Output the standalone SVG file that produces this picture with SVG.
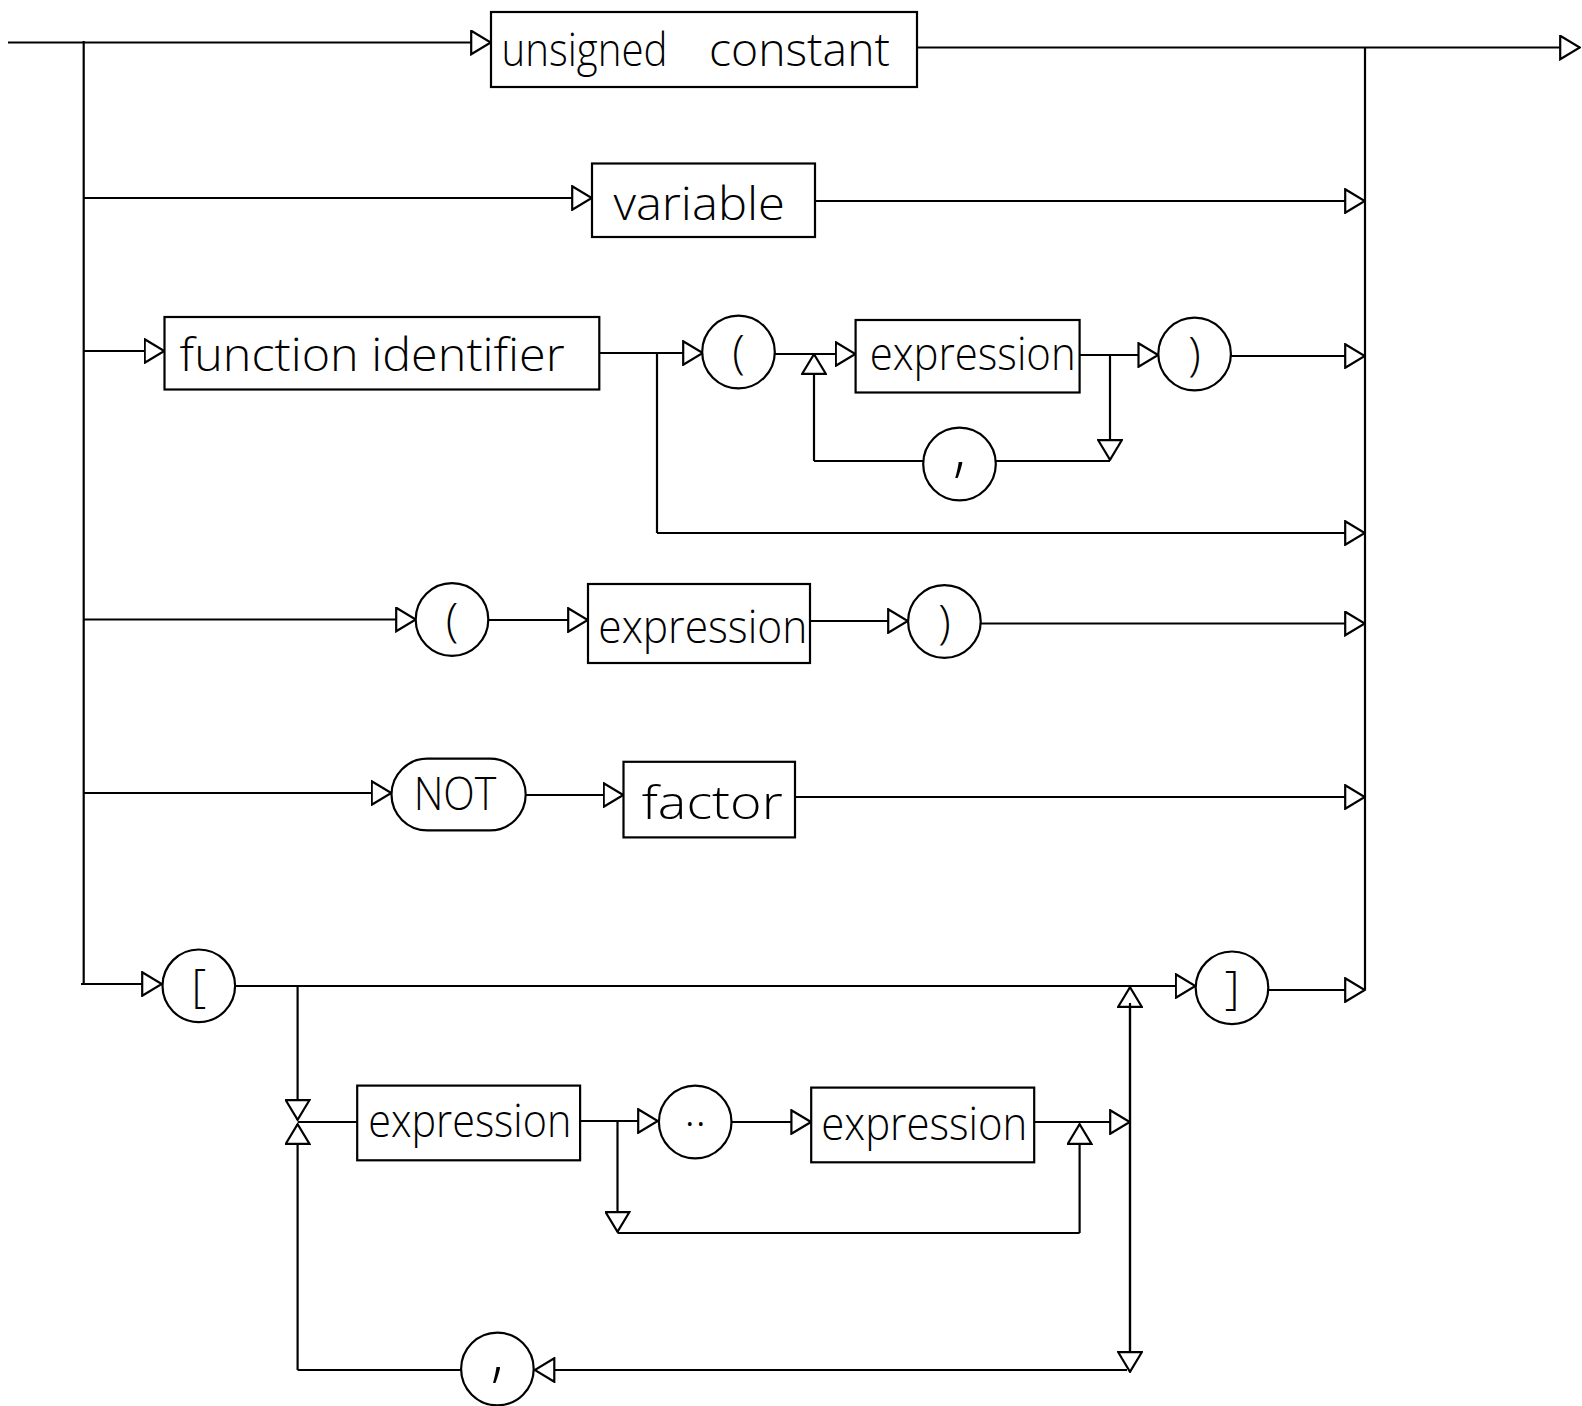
<svg xmlns="http://www.w3.org/2000/svg" width="1582" height="1406" viewBox="0 0 1582 1406">
  <style>
    .box { fill: #fff; stroke: #000; stroke-width: 2.2; }
    .term { fill: #fff; stroke: #000; stroke-width: 2.2; }
    .lbl { font-family: "Open Sans", "Liberation Sans", sans-serif; font-weight: 300; font-size: 46px; fill: #000; }
    .sym { font-family: "Open Sans", "Liberation Sans", sans-serif; font-weight: 300; font-size: 46px; fill: #000; text-anchor: middle; }
    .comma { font-size: 64px; }
    .wire { fill: none; stroke: #000; stroke-width: 2.2; }
  </style>
  <defs>
    <marker id="arr" viewBox="0 0 22 26" refX="21" refY="13" markerWidth="22" markerHeight="26" markerUnits="userSpaceOnUse" orient="auto">
      <path d="M1.2,1.2 L20.8,13 L1.2,24.8 Z" fill="#fff" stroke="#000" stroke-width="2.2"/>
    </marker>
  </defs>
  <rect width="1582" height="1406" fill="#fff"/>

  <!-- connectors -->
  <g id="connectors" class="wire">
    <!-- entry and rails -->
    <line x1="8" y1="42.5" x2="491" y2="42.5" marker-end="url(#arr)"/>
    <line x1="83.7" y1="41" x2="83.7" y2="984"/>
    <line x1="917" y1="47.5" x2="1580" y2="47.5" marker-end="url(#arr)"/>
    <line x1="1365" y1="47.5" x2="1365" y2="990"/>

    <!-- variable -->
    <line x1="83.7" y1="198" x2="592" y2="198" marker-end="url(#arr)"/>
    <line x1="815" y1="201" x2="1365" y2="201" marker-end="url(#arr)"/>

    <!-- function call -->
    <line x1="83.7" y1="351" x2="164.5" y2="351" marker-end="url(#arr)"/>
    <line x1="599" y1="353" x2="703" y2="353" marker-end="url(#arr)"/>
    <line x1="775" y1="354" x2="855.6" y2="354" marker-end="url(#arr)"/>
    <line x1="1079.6" y1="355" x2="1158.3" y2="355" marker-end="url(#arr)"/>
    <line x1="1231" y1="356" x2="1365" y2="356" marker-end="url(#arr)"/>
    <line x1="1110" y1="355" x2="1110" y2="460" marker-end="url(#arr)"/>
    <line x1="1110" y1="461" x2="996" y2="461"/>
    <line x1="923" y1="461" x2="814" y2="461"/>
    <line x1="814" y1="461" x2="814" y2="354" marker-end="url(#arr)"/>
    <line x1="657" y1="353" x2="657" y2="533"/>
    <line x1="657" y1="533" x2="1365" y2="533" marker-end="url(#arr)"/>

    <!-- parenthesised expression -->
    <line x1="83.7" y1="619.5" x2="416" y2="619.5" marker-end="url(#arr)"/>
    <line x1="488" y1="620" x2="588" y2="620" marker-end="url(#arr)"/>
    <line x1="810" y1="621" x2="908" y2="621" marker-end="url(#arr)"/>
    <line x1="981" y1="623.5" x2="1365" y2="623.5" marker-end="url(#arr)"/>

    <!-- NOT factor -->
    <line x1="83.7" y1="793" x2="391.5" y2="793" marker-end="url(#arr)"/>
    <line x1="525.7" y1="795" x2="623.5" y2="795" marker-end="url(#arr)"/>
    <line x1="795" y1="797" x2="1365" y2="797" marker-end="url(#arr)"/>

    <!-- set constructor -->
    <line x1="81" y1="984" x2="162" y2="984" marker-end="url(#arr)"/>
    <line x1="235" y1="986" x2="1195.6" y2="986" marker-end="url(#arr)"/>
    <line x1="1268" y1="990" x2="1365" y2="990" marker-end="url(#arr)"/>
    <line x1="297.6" y1="986" x2="297.6" y2="1120" marker-end="url(#arr)"/>
    <line x1="297.6" y1="1370" x2="297.6" y2="1124" marker-end="url(#arr)"/>
    <line x1="297.6" y1="1122" x2="357.2" y2="1122"/>
    <line x1="580" y1="1121" x2="658" y2="1121" marker-end="url(#arr)"/>
    <line x1="731.5" y1="1122" x2="811.2" y2="1122" marker-end="url(#arr)"/>
    <line x1="1034" y1="1122" x2="1130" y2="1122" marker-end="url(#arr)"/>
    <line x1="617.5" y1="1122" x2="617.5" y2="1232" marker-end="url(#arr)"/>
    <line x1="617.5" y1="1233" x2="1079.6" y2="1233"/>
    <line x1="1079.6" y1="1233" x2="1079.6" y2="1124" marker-end="url(#arr)"/>
    <line x1="1130" y1="1370" x2="1130" y2="987" marker-end="url(#arr)"/>
    <line x1="1130" y1="1003" x2="1130" y2="1372" marker-end="url(#arr)"/>
    <line x1="1127" y1="1370" x2="534.5" y2="1370" marker-end="url(#arr)"/>
    <line x1="461" y1="1370" x2="297.6" y2="1370"/>
  </g>

  <!-- nodes -->
  <g id="n-unsigned-constant">
    <rect class="box" x="491" y="12" width="426" height="75"/>
    <text class="lbl" y="66"><tspan x="501.5" textLength="166" lengthAdjust="spacingAndGlyphs">unsigned</tspan> <tspan x="709" textLength="181" lengthAdjust="spacingAndGlyphs">constant</tspan></text>
  </g>
  <g id="n-variable">
    <rect class="box" x="592" y="163.5" width="223" height="73.5"/>
    <text class="lbl" x="613.4" y="220" textLength="171.6" lengthAdjust="spacingAndGlyphs">variable</text>
  </g>
  <g id="n-function-identifier">
    <rect class="box" x="164.5" y="317" width="434.8" height="72.5"/>
    <text class="lbl" x="179.6" y="371" textLength="385" lengthAdjust="spacingAndGlyphs">function identifier</text>
  </g>
  <g id="n-lparen-1">
    <circle class="term" cx="738.5" cy="352" r="36.3"/>
    <text class="sym" x="738.5" y="368">(</text>
  </g>
  <g id="n-expression-1">
    <rect class="box" x="855.6" y="320" width="224" height="72.5"/>
    <text class="lbl" x="869.7" y="370" textLength="206" lengthAdjust="spacingAndGlyphs">expression</text>
  </g>
  <g id="n-rparen-1">
    <circle class="term" cx="1194.6" cy="354" r="36.3"/>
    <text class="sym" x="1194.6" y="370">)</text>
  </g>
  <g id="n-comma-1">
    <circle class="term" cx="959.5" cy="464" r="36.3"/>
    <text class="sym comma" x="959.5" y="470">,</text>
  </g>
  <g id="n-lparen-2">
    <circle class="term" cx="452" cy="619.5" r="36.3"/>
    <text class="sym" x="452" y="635.5">(</text>
  </g>
  <g id="n-expression-2">
    <rect class="box" x="588" y="584" width="222" height="79"/>
    <text class="lbl" x="598.3" y="642.7" textLength="209" lengthAdjust="spacingAndGlyphs">expression</text>
  </g>
  <g id="n-rparen-2">
    <circle class="term" cx="944.4" cy="621.5" r="36.3"/>
    <text class="sym" x="944.4" y="637.5">)</text>
  </g>
  <g id="n-not">
    <rect class="term" x="391.5" y="758.7" width="134.2" height="71.7" rx="35.8" ry="35.8"/>
    <text class="lbl" x="413.7" y="810" textLength="82.7" lengthAdjust="spacingAndGlyphs">NOT</text>
  </g>
  <g id="n-factor">
    <rect class="box" x="623.5" y="761.8" width="171.5" height="75.6"/>
    <text class="lbl" x="641.7" y="819" textLength="141" lengthAdjust="spacingAndGlyphs">factor</text>
  </g>
  <g id="n-lbracket">
    <circle class="term" cx="198.8" cy="985.8" r="36.3"/>
    <text class="sym" x="198.8" y="1002">[</text>
  </g>
  <g id="n-rbracket">
    <circle class="term" cx="1232" cy="987.8" r="36.3"/>
    <text class="sym" x="1232" y="1004">]</text>
  </g>
  <g id="n-expression-3">
    <rect class="box" x="357.2" y="1085.6" width="222.9" height="74.7"/>
    <text class="lbl" x="368.3" y="1137" textLength="203" lengthAdjust="spacingAndGlyphs">expression</text>
  </g>
  <g id="n-range">
    <circle class="term" cx="695.2" cy="1122" r="36.3"/>
    <text class="sym" x="695.2" y="1126">..</text>
  </g>
  <g id="n-expression-4">
    <rect class="box" x="811.2" y="1087.6" width="223" height="74.7"/>
    <text class="lbl" x="821.3" y="1140" textLength="206" lengthAdjust="spacingAndGlyphs">expression</text>
  </g>
  <g id="n-comma-2">
    <circle class="term" cx="497.4" cy="1369" r="36.3"/>
    <text class="sym comma" x="497.4" y="1375">,</text>
  </g>
</svg>
